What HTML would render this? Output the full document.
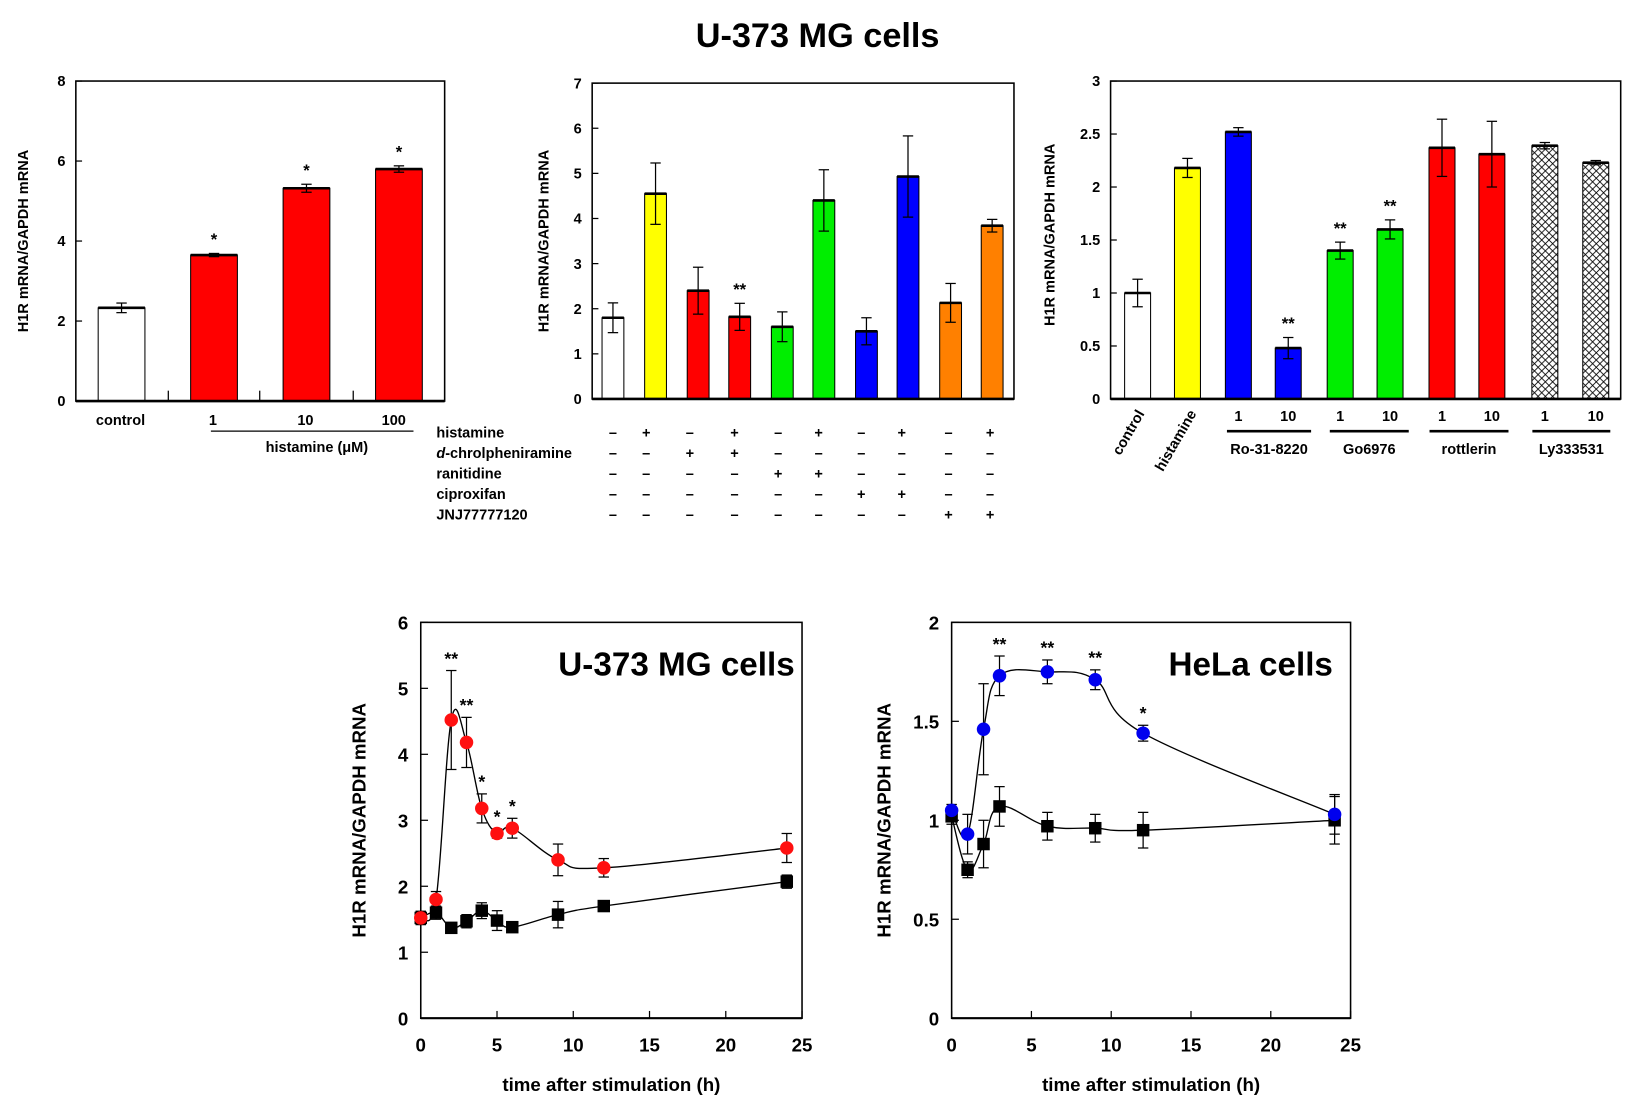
<!DOCTYPE html>
<html><head><meta charset="utf-8"><style>
html,body{margin:0;padding:0;background:#fff;}
svg{display:block;font-family:"Liberation Sans",Arial,sans-serif;font-weight:bold;}
</style></head><body>
<svg id="s" width="1629" height="1119" viewBox="0 0 1568 1077" preserveAspectRatio="none" xmlns="http://www.w3.org/2000/svg">
<defs>
<pattern id="hatch" width="7" height="7" patternUnits="userSpaceOnUse">
<rect width="7" height="7" fill="#fff"/>
<path d="M0,0L7,7M7,0L0,7" stroke="#000" stroke-width="0.8"/>
</pattern>
</defs>
<text x="787" y="45" font-size="33" text-anchor="middle">U-373 MG cells</text>
</svg>
<script>
var s=document.getElementById('s'),out='';
function R(x,y,w,h,f,sw){out+='<rect x="'+x+'" y="'+y+'" width="'+w+'" height="'+h+'" fill="'+f+'" stroke="#000" stroke-width="'+(sw||1)+'"/>';}
function L(x1,y1,x2,y2,w){out+='<line x1="'+x1+'" y1="'+y1+'" x2="'+x2+'" y2="'+y2+'" stroke="#000" stroke-width="'+(w||1.2)+'"/>';}
function T(x,y,t,sz,a,extra){out+='<text x="'+x+'" y="'+y+'" font-size="'+sz+'" text-anchor="'+(a||'middle')+'" '+(extra||'')+'>'+t+'</text>';}
function eb(x,y1,y2,w){L(x,y1,x,y2);L(x-w,y1,x+w,y1);L(x-w,y2,x+w,y2);}
function barPanel(o){
 var sc=(o.y0-o.y1)/o.max;
 o.bars.forEach(function(b){
  var y=o.y0-b[1]*sc;R(b[0]-o.w/2,y,o.w,o.y0-y,b[3]);
  L(b[0]-o.w/2,y,b[0]+o.w/2,y,2.5);
  eb(b[0],y-b[2]*sc,y+b[2]*sc,5);
  if(b[4])T(b[0],y-b[2]*sc-8,b[4],16);
 });
 out+='<rect x="'+o.x0+'" y="'+o.y1+'" width="'+(o.x1-o.x0)+'" height="'+(o.y0-o.y1)+'" fill="none" stroke="#000" stroke-width="1.5"/>';
 L(o.x0,o.y0,o.x1,o.y0,2.5);
 o.ticks.forEach(function(t){var y=o.y0-t*sc;L(o.x0,y,o.x0+6,y);T(o.x0-10,y+5,t,14,'end');});
 T(0,0,'H1R mRNA/GAPDH mRNA',14,'middle','transform="translate('+o.yl[0]+','+o.yl[1]+') rotate(-90)"');
}
barPanel({x0:73,x1:428,y0:386,y1:78,max:8,w:45,ticks:[0,2,4,6,8],yl:[27,232],
 bars:[[117,2.33,0.12,'#fff'],[206,3.65,0.04,'#ff0000','*'],[295,5.32,0.1,'#ff0000','*'],[384,5.8,0.08,'#ff0000','*']]});
[162,250,340].forEach(function(x){L(x,376,x,386);});
T(116,409,'control',14);T(205,409,'1',14);T(294,409,'10',14);T(379,409,'100',14);
L(203,415,398,415,1.2);T(305,435,'histamine (μM)',14);
var c=['#fff','#ffff00','#ff0000','#ff0000','#00ee00','#00ee00','#0000ff','#0000ff','#ff8000','#ff8000'];
var v=[[1.8,.33],[4.55,.68],[2.4,.52],[1.82,.3],[1.6,.33],[4.4,.68],[1.5,.3],[4.93,.9],[2.13,.43],[3.84,.14]];
var cx=[590,631,672,712,753,793,834,874,915,955];
barPanel({x0:570,x1:976,y0:384,y1:80,max:7,w:21,ticks:[0,1,2,3,4,5,6,7],yl:[528,232],
 bars:v.map(function(a,i){return [cx[i],a[0],a[1],c[i],i==3?'**':''];})});
var rows=[['histamine','-+-+-+-+-+'],['<tspan font-style="italic">d</tspan>-chrolpheniramine','--++------'],['ranitidine','----++----'],['ciproxifan','------++--'],['JNJ77777120','--------++']];
var sx=[590,622,664,707,749,788,829,868,913,953];
rows.forEach(function(r,j){var y=421+j*19.8;T(420,y,r[0],14,'start');
 for(var i=0;i<10;i++){T(sx[i],y,r[1][i]=='+'?'+':'–',14);}});
var c2=['#fff','#ffff00','#0000ff','#0000ff','#00ee00','#00ee00','#ff0000','#ff0000','url(#hatch)','url(#hatch)'];
var v2=[[1,.13],[2.18,.09],[2.52,.04],[.48,.1,'**'],[1.4,.08,'**'],[1.6,.09,'**'],[2.37,.27],[2.31,.31],[2.39,.03],[2.23,.02]];
var cx2=[1095,1143,1192,1240,1290,1338,1388,1436,1487,1536];
barPanel({x0:1069,x1:1560,y0:384,y1:78,max:3,w:25,ticks:[0,0.5,1,1.5,2,2.5,3],yl:[1015,226],
 bars:v2.map(function(a,i){return [cx2[i],a[0],a[1],c2[i],a[2]];})});
T(0,0,'control',14,'end','transform="translate(1102,398) rotate(-60)"');
T(0,0,'histamine',14,'end','transform="translate(1152,398) rotate(-60)"');
for(var i=2;i<10;i++)T(cx2[i],405,i%2?'10':'1',14);
[[1181,1262,'Ro-31-8220'],[1280,1356,'Go6976'],[1376,1452,'rottlerin'],[1475,1550,'Ly333531']].forEach(function(g){L(g[0],415,g[1],415,2.5);T((g[0]+g[1])/2,437,g[2],14);});
function smooth(P){var d='M'+P[0][0].toFixed(1)+','+P[0][1].toFixed(1);
 for(var i=0;i<P.length-1;i++){var p0=P[i-1]||P[i],p1=P[i],p2=P[i+1],p3=P[i+2]||p2,k=0.18;
  d+=' C'+(p1[0]+(p2[0]-p0[0])*k).toFixed(1)+','+(p1[1]+(p2[1]-p0[1])*k).toFixed(1)+' '+(p2[0]-(p3[0]-p1[0])*k).toFixed(1)+','+(p2[1]-(p3[1]-p1[1])*k).toFixed(1)+' '+p2[0].toFixed(1)+','+p2[1].toFixed(1);}
 return d;}
function linePanel(o){
 var sx=function(t){return o.x0+t*(o.x1-o.x0)/25;},sy=function(v){return o.y0-v*(o.y0-o.y1)/o.max;};
 out+='<rect x="'+o.x0+'" y="'+o.y1+'" width="'+(o.x1-o.x0)+'" height="'+(o.y0-o.y1)+'" fill="none" stroke="#000" stroke-width="1.5"/>';
 L(o.x0,o.y0,o.x1,o.y0,2);
 [0,5,10,15,20,25].forEach(function(t){var x=sx(t);L(x,o.y0,x,o.y0-7);T(x,o.y0+32,t,18);});
 o.ticks.forEach(function(t){var y=sy(t);L(o.x0,y,o.x0+7,y);T(o.x0-12,y+7,t,18,'end');});
 T((o.x0+o.x1)/2,o.y0+70,'time after stimulation (h)',18);
 T(0,0,'H1R mRNA/GAPDH mRNA',18,'middle','transform="translate('+o.yl+','+(o.y0+o.y1)/2+') rotate(-90)"');
 o.series.forEach(function(se){
  var P=se.d.map(function(d){return [sx(d[0]),sy(d[1])];});
  out+='<path d="'+smooth(P)+'" fill="none" stroke="#000" stroke-width="1.3" stroke-linejoin="round"/>';
  se.d.forEach(function(d){var x=sx(d[0]),y=sy(d[1]);eb(x,sy(d[1]+d[2]),sy(d[1]-d[2]),5);
   if(se.sq)out+='<rect x="'+(x-6)+'" y="'+(y-6)+'" width="12" height="12" fill="#000"/>';
   else out+='<circle cx="'+x+'" cy="'+y+'" r="6.5" fill="'+se.c+'"/>';
   if(d[3])T(x,sy(d[1]+d[2])-6,d[3],17);});
 });
 T(o.lab[0],o.lab[1],o.lab[2],32,'end');
}
linePanel({x0:405,x1:772,y0:980,y1:599,max:6,ticks:[0,1,2,3,4,5,6],yl:352,lab:[765,650,'U-373 MG cells'],series:[
 {sq:1,d:[[0,1.52,.1],[1,1.6,.1],[2,1.37,.06],[3,1.47,.1],[4,1.63,.12],[5,1.48,.15],[6,1.38,.07],[9,1.57,.2],[12,1.7,.06],[24,2.07,.1]]},
 {c:'#ff1010',d:[[0,1.52,.1],[1,1.8,.12],[2,4.52,.75,'**'],[3,4.18,.38,'**'],[4,3.18,.22,'*'],[5,2.8,.07,'*'],[6,2.88,.15,'*'],[9,2.4,.24],[12,2.28,.14],[24,2.58,.22]]}]});
linePanel({x0:916,x1:1300,y0:980,y1:599,max:2,ticks:[0,0.5,1,1.5,2],yl:857,lab:[1283,650,'HeLa cells'],series:[
 {sq:1,d:[[0,1.02,.04],[1,.75,.04],[2,.88,.12],[3,1.07,.1],[6,.97,.07],[9,.96,.07],[12,.95,.09],[24,1,.12]]},
 {c:'#0000ee',d:[[0,1.05,.03],[1,.93,.1],[2,1.46,.23],[3,1.73,.1,'**'],[6,1.75,.06,'**'],[9,1.71,.05,'**'],[12,1.44,.04,'*'],[24,1.03,.1]]}]});
s.insertAdjacentHTML('beforeend',out);
</script>
</body></html>
